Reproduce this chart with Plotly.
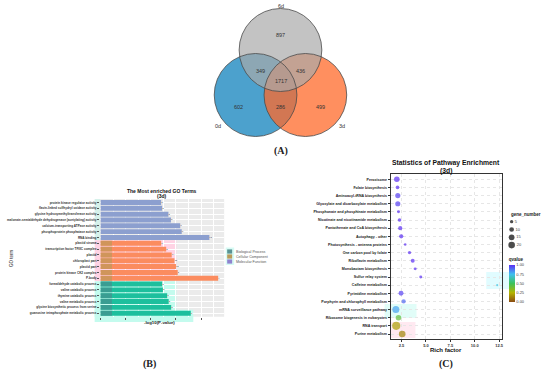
import plotly.graph_objects as go

W, H = 550, 376

# ---------------- data ----------------
venn_sets = ["6d", "0d", "3d"]
venn_counts = [897, 349, 436, 1717, 602, 286, 499]   # 6d only, 0d&6d, 3d&6d, all, 0d only, 0d&3d, 3d only

mf_terms = ["protein kinase regulator activity",
            "flavin-linked sulfhydryl oxidase activity",
            "glycine hydroxymethyltransferase activity",
            "malonate-semialdehyde dehydrogenase (acetylating) activity",
            "calcium-transporting ATPase activity",
            "phosphoprotein phosphatase activity",
            "RNA binding"]
mf_values = [2.41, 2.45, 2.70, 2.80, 3.17, 3.23, 4.33]
mf_counts = [2, 2, 2, 2, 3, 3, 12]

cc_terms = ["plastid stroma",
            "transcription factor TFIIIC complex",
            "plastid",
            "chloroplast part",
            "plastid part",
            "protein kinase CK2 complex",
            "P-body"]
cc_values = [2.41, 2.61, 2.83, 2.94, 3.00, 3.07, 4.68]
cc_counts = [2, 2, 14, 12, 12, 2, 9]

bp_terms = ["formaldehyde catabolic process",
            "valine catabolic process",
            "thymine catabolic process",
            "valine metabolic process",
            "glycine biosynthetic process from serine",
            "guanosine tetraphosphate metabolic process"]
bp_values = [2.45, 2.48, 2.65, 2.71, 2.81, 3.59]
bp_counts = [2, 2, 2, 2, 2, 3]

bar_ticks = [0, 1, 2, 3, 4]

pathways = ["Peroxisome", "Folate biosynthesis", "Aminoacyl-tRNA biosynthesis",
            "Glyoxylate and dicarboxylate metabolism", "Phosphonate and phosphinate metabolism",
            "Nicotinate and nicotinamide metabolism", "Pantothenate and CoA biosynthesis",
            "Autophagy - other", "Photosynthesis - antenna proteins", "One carbon pool by folate",
            "Riboflavin metabolism", "Monobactam biosynthesis", "Sulfur relay system",
            "Caffeine metabolism", "Pyrimidine metabolism", "Porphyrin and chlorophyll metabolism",
            "mRNA surveillance pathway", "Ribosome biogenesis in eukaryotes", "RNA transport",
            "Purine metabolism"]
rich_factor = [2.02, 2.09, 2.12, 2.12, 2.19, 2.30, 2.37, 2.47, 2.88, 3.32,
               3.65, 3.90, 4.47, 12.3, 2.45, 2.72, 1.92, 2.19, 1.96, 2.57]
gene_number = [14, 6, 12, 12, 4, 6, 8, 8, 3, 5, 7, 4, 4, 2, 11, 8, 22, 14, 30, 20]
qvalue = [1.0, 1.0, 0.97, 0.97, 1.0, 1.0, 1.0, 1.0, 1.0, 1.0,
          1.0, 1.0, 1.0, 0.72, 0.97, 0.9, 0.8, 0.42, 0.2, 0.14]
rich_ticks = [2.5, 5.0, 7.5, 10.0, 12.5]
size_legend = [5, 10, 15, 20]
q_ticks = [0.0, 0.25, 0.5, 0.75, 1.0]

# ---------------- helpers ----------------
def pxx(x):
    return x / W

def pxy(y):
    return 1 - y / H

FONT = "Liberation Sans"
SERIF = "Liberation Serif"
SIZEREF = 0.9

fig = go.Figure()
shapes = []
annos = []

# ---------------- (A) Venn ----------------
venn_geom = {"6d": (281.5, 50.0), "0d": (256.5, 95.0), "3d": (306.5, 95.0)}
venn_r = 41.5
venn_fill = {"0d": ("#1f8ac0", 0.8), "3d": ("#ff6a2a", 0.75), "6d": ("#aaaaaa", 0.7)}
for s in ["0d", "3d", "6d"]:
    cx, cy = venn_geom[s]
    col, op = venn_fill[s]
    shapes.append(dict(type="circle", xref="x3", yref="y3", x0=cx - venn_r, x1=cx + venn_r,
                       y0=cy - venn_r, y1=cy + venn_r, fillcolor=col, opacity=op,
                       line=dict(width=0), layer="above"))
for s in ["0d", "3d", "6d"]:
    cx, cy = venn_geom[s]
    shapes.append(dict(type="circle", xref="x3", yref="y3", x0=cx - venn_r, x1=cx + venn_r,
                       y0=cy - venn_r, y1=cy + venn_r, fillcolor="rgba(0,0,0,0)",
                       line=dict(width=0.8, color="#4a4a4a"), layer="above"))
venn_label_pos = [(282, 35), (261, 71), (302, 71), (282, 81), (239, 107), (282, 107), (322, 107)]
for (x, y), c in zip(venn_label_pos, venn_counts):
    annos.append(dict(xref="x3", yref="y3", x=x, y=y, text=str(c), showarrow=False,
                      font=dict(size=5.5, color="#333", family=FONT)))
venn_set_pos = {"6d": (282, 6), "0d": (219, 126), "3d": (343, 126)}
for s in venn_sets:
    x, y = venn_set_pos[s]
    annos.append(dict(xref="x3", yref="y3", x=x, y=y, text=s, showarrow=False,
                      font=dict(size=5.5, color="#333", family=FONT)))
annos.append(dict(xref="x3", yref="y3", x=282, y=151, text="<b>(A)</b>", showarrow=False,
                  font=dict(size=10, color="#222", family=SERIF)))

# ---------------- (B) GO bar chart ----------------
B_L, B_R, B_T, B_B = 100.5, 225.0, 199.0, 316.7
all_terms = mf_terms + cc_terms + bp_terms
n_terms = len(all_terms)

shapes.append(dict(type="rect", xref="paper", yref="paper", x0=pxx(B_L), x1=pxx(B_R),
                   y0=pxy(B_B), y1=pxy(B_T), fillcolor="#EBEBEB", line=dict(width=0), layer="below"))
row_h = (B_B - B_T) / (n_terms + 0.2)
def row_top(i):
    return B_T + (i + 0.1) * row_h
n_mf, n_cc = len(mf_terms), len(cc_terms)
shapes.append(dict(type="rect", xref="paper", yref="paper", x0=pxx(95), x1=pxx(B_L),
                   y0=pxy(row_top(n_mf)), y1=pxy(B_T), fillcolor="#d6f1ea", line=dict(width=0), layer="below"))
shapes.append(dict(type="rect", xref="paper", yref="paper", x0=pxx(95), x1=pxx(177),
                   y0=pxy(row_top(n_mf + n_cc)), y1=pxy(row_top(n_mf)), fillcolor="#ffd3e4",
                   line=dict(width=0), layer="below"))
shapes.append(dict(type="rect", xref="paper", yref="paper", x0=pxx(95), x1=pxx(177),
                   y0=pxy(B_B), y1=pxy(row_top(n_mf + n_cc)), fillcolor="#c4fbee",
                   line=dict(width=0), layer="below"))
shapes.append(dict(type="rect", xref="paper", yref="paper", x0=pxx(95), x1=pxx(194),
                   y0=pxy(322), y1=pxy(row_top(n_terms - 1) - 0.5), fillcolor="#c4fbee",
                   line=dict(width=0), layer="below"))
shapes.append(dict(type="rect", xref="paper", yref="paper", x0=pxx(226.5), x1=pxx(235),
                   y0=pxy(265), y1=pxy(247.5), fillcolor="#d7fbf4", line=dict(width=0), layer="below"))

bar_groups = [
    ("Molecular Function", mf_terms, mf_values, mf_counts, "#8C9FCF", None),
    ("Cellular Component", cc_terms, cc_values, cc_counts, "#FB8C5F", "#C8975A"),
    ("Biological Process", bp_terms, bp_values, bp_counts, "#1DBF9D", "#3F9690"),
]
for name, terms, vals, cnts, col, dark in bar_groups:
    fig.add_trace(go.Bar(x=vals, y=terms, orientation="h", name=name, width=0.85,
                         marker=dict(color=col, line=dict(width=0)),
                         text=[str(c) for c in cnts], textposition="outside",
                         textfont=dict(size=2.5, color="#444", family=FONT),
                         cliponaxis=False, xaxis="x", yaxis="y", showlegend=False,
                         hoverinfo="x+y"))
    if dark:
        for t in terms:
            i = all_terms.index(t)
            shapes.append(dict(type="rect", xref="x", yref="y", x0=0, x1=0.45,
                               y0=i - 0.425, y1=i + 0.425, fillcolor=dark, opacity=0.85,
                               line=dict(width=0), layer="above"))

leg_items = [("Biological Process", "#5a9393"), ("Cellular Component", "#b89a5a"),
             ("Molecular Function", "#8f83cf")]
for k, (lab, col) in enumerate(leg_items):
    yc = 251.5 + k * 5.0
    shapes.append(dict(type="rect", xref="x3", yref="y3", x0=228, x1=233, y0=yc - 2.1, y1=yc + 2.1,
                       fillcolor=col, line=dict(width=0), layer="above"))
    annos.append(dict(xref="x3", yref="y3", x=235, y=yc, text=lab, showarrow=False, xanchor="left",
                      font=dict(size=3.6, color="#555", family=FONT)))

annos.append(dict(xref="x3", yref="y3", x=163, y=190.5, text="<b>The Most enriched GO Terms</b>",
                  showarrow=False, font=dict(size=5, color="#111", family=FONT)))
annos.append(dict(xref="x3", yref="y3", x=163, y=195.5, text="<b>(3d)</b>",
                  showarrow=False, font=dict(size=5, color="#111", family=FONT)))
annos.append(dict(xref="x3", yref="y3", x=160, y=322.5, text="<b>-log10(P-value)</b>",
                  showarrow=False, font=dict(size=4.3, color="#222", family=FONT)))
annos.append(dict(xref="x3", yref="y3", x=11, y=258, text="GO term", textangle=-90,
                  showarrow=False, font=dict(size=4.5, color="#222", family=FONT)))
annos.append(dict(xref="x3", yref="y3", x=150, y=364, text="<b>(B)</b>", showarrow=False,
                  font=dict(size=10, color="#222", family=SERIF)))

# ---------------- (C) bubble chart ----------------
C_L, C_R, C_T, C_B = 392.0, 504.0, 174.4, 338.9
shapes.append(dict(type="rect", xref="paper", yref="paper", x0=pxx(488), x1=pxx(512),
                   y0=pxy(289), y1=pxy(272), fillcolor="#d9fbff", opacity=0.8, line=dict(width=0), layer="below"))
shapes.append(dict(type="rect", xref="paper", yref="paper", x0=pxx(386), x1=pxx(418),
                   y0=pxy(318), y1=pxy(304), fillcolor="#d9fcf6", opacity=0.8, line=dict(width=0), layer="below"))
shapes.append(dict(type="rect", xref="paper", yref="paper", x0=pxx(392), x1=pxx(417),
                   y0=pxy(338), y1=pxy(322), fillcolor="#ffe4ee", opacity=0.8, line=dict(width=0), layer="below"))

colorscale = [[0.0, "#8B4A12"], [0.25, "#B4B400"], [0.5, "#3CC25A"],
              [0.75, "#3FC0F0"], [1.0, "#5A2EF2"]]
fig.add_trace(go.Scatter(
    x=rich_factor, y=pathways, mode="markers", xaxis="x2", yaxis="y2", showlegend=False,
    marker=dict(size=gene_number, sizemode="area", sizeref=SIZEREF, sizemin=1,
                color=qvalue, colorscale=colorscale, cmin=0, cmax=1, line=dict(width=0),
                colorbar=dict(x=pxx(510.5), xanchor="left", y=pxy(302), yanchor="bottom",
                              len=47 / H, lenmode="fraction", thickness=6, thicknessmode="pixels",
                              outlinewidth=0, xpad=0, ypad=0,
                              tickvals=q_ticks, ticktext=[f"{v:.2f}" for v in q_ticks],
                              tickfont=dict(size=4, color="#444", family=FONT), ticks="",
                              title=dict(text="<b>qvalue</b>", side="top",
                                         font=dict(size=4.5, color="#222", family=FONT))))))

leg_y0, leg_dy = 221.7, 7.8
fig.add_trace(go.Scatter(
    x=[513.5] * len(size_legend), y=[leg_y0 + k * leg_dy for k in range(len(size_legend))],
    mode="markers+text", text=[str(s) for s in size_legend], textposition="middle right",
    textfont=dict(size=4, color="#444", family=FONT), xaxis="x3", yaxis="y3", showlegend=False,
    marker=dict(size=size_legend, sizemode="area", sizeref=SIZEREF, color="black", line=dict(width=0)),
    cliponaxis=False, hoverinfo="skip"))
annos.append(dict(xref="x3", yref="y3", x=511, y=214, text="<b>gene_number</b>", xanchor="left",
                  showarrow=False, font=dict(size=4.5, color="#222", family=FONT)))

annos.append(dict(xref="x3", yref="y3", x=448, y=163, text="<b>Statistics of Pathway Enrichment</b>",
                  showarrow=False, font=dict(size=6.8, color="#111", family=FONT)))
annos.append(dict(xref="x3", yref="y3", x=448, y=170.8, text="<b>(3d)</b>",
                  showarrow=False, font=dict(size=6.8, color="#111", family=FONT)))
annos.append(dict(xref="x3", yref="y3", x=448, y=349.8, text="<b>Rich factor</b>",
                  showarrow=False, font=dict(size=6, color="#111", family=FONT)))
annos.append(dict(xref="x3", yref="y3", x=448, y=364, text="<b>(C)</b>", showarrow=False,
                  font=dict(size=10, color="#222", family=SERIF)))

# ---------------- layout ----------------
fig.update_layout(
    width=W, height=H, margin=dict(l=0, r=0, t=0, b=0),
    paper_bgcolor="white", plot_bgcolor="rgba(0,0,0,0)",
    font=dict(family=FONT, size=5, color="#333"),
    barmode="group", bargap=0.1,
    shapes=shapes, annotations=annos,
    xaxis=dict(domain=[pxx(B_L), pxx(B_R)], anchor="y", range=[-0.02, 4.92],
               tickmode="array", tickvals=bar_ticks, showticklabels=False,
               ticks="outside", ticklen=2, tickwidth=0.6, tickcolor="#555",
               showgrid=True, gridcolor="white", gridwidth=0.8, zeroline=False, showline=False,
               minor=dict(tickvals=[v + 0.5 for v in bar_ticks], showgrid=True,
                          gridcolor="white", gridwidth=0.4, ticks=""),
               fixedrange=True),
    yaxis=dict(domain=[pxy(B_B), pxy(B_T)], anchor="x", type="category",
               categoryorder="array", categoryarray=all_terms, range=[n_terms - 0.4, -0.6],
               ticks="outside", ticklen=2, tickwidth=0.5, tickcolor="#555",
               tickfont=dict(size=3.1, color="#333", family=FONT, weight="bold"),
               showgrid=True, gridcolor="white", gridwidth=0.8, zeroline=False, showline=False,
               fixedrange=True),
    xaxis2=dict(domain=[pxx(C_L), pxx(C_R)], anchor="y2", range=[1.38, 12.81],
                tickmode="array", tickvals=rich_ticks, tickformat=".1f",
                ticks="outside", ticklen=2, tickwidth=0.6, tickcolor="#333",
                tickfont=dict(size=4, color="#333", family=FONT, weight="bold"),
                showgrid=True, gridcolor="#e6e6e6", gridwidth=0.5, griddash="dot",
                zeroline=False, showline=True, mirror=True, linecolor="#333", linewidth=0.8,
                fixedrange=True),
    yaxis2=dict(domain=[pxy(C_B), pxy(C_T)], anchor="x2", type="category",
                categoryorder="array", categoryarray=pathways, range=[len(pathways) - 0.4, -0.6],
                ticks="outside", ticklen=2, tickwidth=0.6, tickcolor="#333",
                tickfont=dict(size=3.6, color="#222", family=FONT, weight="bold"),
                showgrid=True, gridcolor="#e6e6e6", gridwidth=0.5, griddash="dot",
                zeroline=False, showline=True, mirror=True, linecolor="#333", linewidth=0.8,
                fixedrange=True),
    xaxis3=dict(domain=[0, 1], anchor="y3", range=[0, W], visible=False, fixedrange=True),
    yaxis3=dict(domain=[0, 1], anchor="x3", range=[H, 0], visible=False, fixedrange=True),
)

fig.write_html("out.html", config={"displayModeBar": False},
               post_script="document.body.style.margin='0';document.body.style.overflow='hidden';")
